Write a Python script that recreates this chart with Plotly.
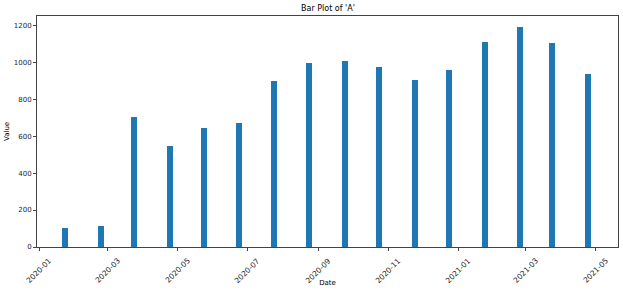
import plotly.graph_objects as go

dates = ["2020-01-24", "2020-02-24", "2020-03-24", "2020-04-24", "2020-05-24", "2020-06-24",
         "2020-07-24", "2020-08-24", "2020-09-24", "2020-10-24", "2020-11-24", "2020-12-24",
         "2021-01-24", "2021-02-24", "2021-03-24", "2021-04-24"]
values = [104, 115, 704, 548, 645, 670, 900, 998, 1005, 975, 903, 957, 1108, 1191, 1103, 937]
tick_vals = ["2020-01-01", "2020-03-01", "2020-05-01", "2020-07-01", "2020-09-01",
             "2020-11-01", "2021-01-01", "2021-03-01", "2021-05-01"]
tick_text = ["2020-01", "2020-03", "2020-05", "2020-07", "2020-09",
             "2020-11", "2021-01", "2021-03", "2021-05"]

DAY = 86400000
fig = go.Figure(go.Bar(x=dates, y=values, width=5.2 * DAY, marker=dict(color="#1f77b4", line=dict(width=0))))

font = "DejaVu Sans, sans-serif"
fig.update_layout(
    width=623, height=292,
    margin=dict(l=37, r=5, t=16, b=45),
    paper_bgcolor="white", plot_bgcolor="white",
    font=dict(family=font, size=7, color="#262626"),
    title=dict(text="Bar Plot of 'A'", x=328 / 623, xanchor="center", y=1 - 8 / 292, yanchor="middle",
               font=dict(size=8, color="#000")),
    showlegend=False,
    bargap=0,
)
# rotated, centre-aligned tick labels (matplotlib style)
for tv, tt in zip(tick_vals, tick_text):
    fig.add_annotation(x=tv, xref="x", y=0, yref="paper", yshift=-6, text=tt, textangle=-45,
                       showarrow=False, xanchor="center", yanchor="top",
                       font=dict(size=7.5, color="#262626", family=font))
fig.update_xaxes(
    type="date", range=["2019-12-30 06:00", "2021-05-20 12:00"], automargin=False,
    tickmode="array", tickvals=tick_vals, ticktext=tick_text, showticklabels=False,
    showgrid=False, zeroline=False, showline=True, linecolor="#444", linewidth=1, mirror=True,
    ticks="outside", ticklen=3, tickcolor="#444",
    title=dict(text="Date", font=dict(size=7, color="#000"), standoff=30),
)
fig.update_yaxes(
    range=[0, 1250], tickvals=[0, 200, 400, 600, 800, 1000, 1200], automargin=False,
    showgrid=False, zeroline=False, showline=True, linecolor="#444", linewidth=1, mirror=True,
    ticks="outside", ticklen=3, tickcolor="#444",
    title=dict(text="Value", font=dict(size=7, color="#000"), standoff=3),
)
fig.write_html("out.html")
